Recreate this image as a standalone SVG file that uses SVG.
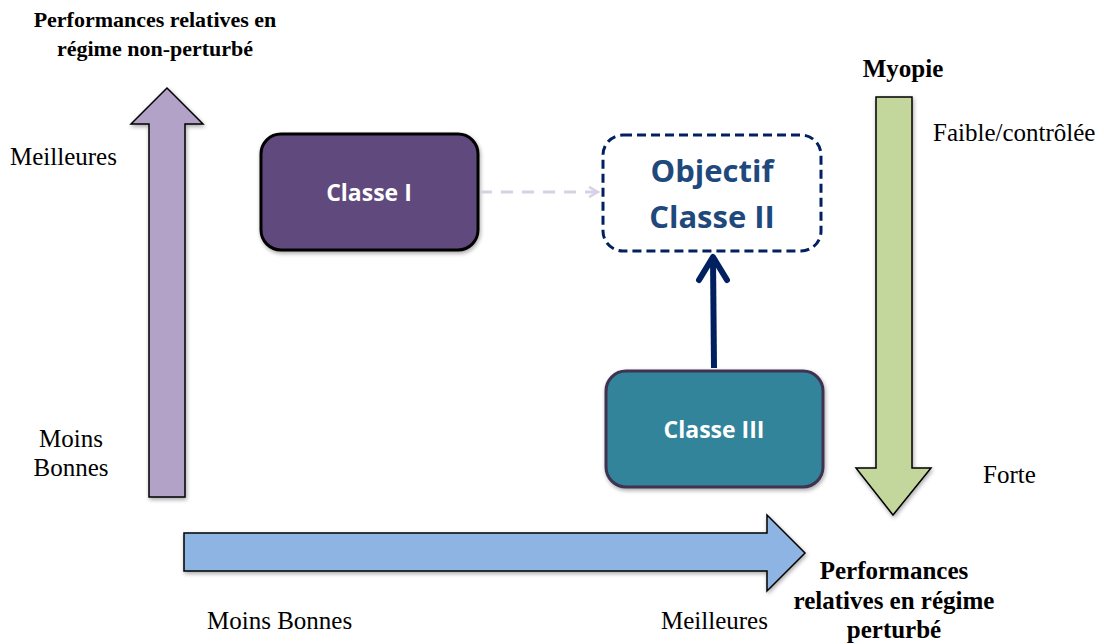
<svg xmlns="http://www.w3.org/2000/svg" width="1104" height="644" viewBox="0 0 1104 644">
<defs>
<style>
.t{font-family:"Liberation Serif","Times New Roman",serif;font-size:25px;fill:#000}
.b{font-weight:bold}
.c{text-anchor:middle}
.top{font-size:22px}
.lbl{font-family:"Open Sans","Liberation Sans",sans-serif;font-weight:bold;fill:#fff;font-size:23px;text-anchor:middle}
.obj{font-family:"Open Sans","Liberation Sans",sans-serif;font-weight:bold;fill:#1F497D;font-size:31px;text-anchor:middle}
.big{stroke:#000;stroke-width:1.5;stroke-linejoin:miter}
</style>
<filter id="sh" x="-10%" y="-10%" width="130%" height="130%">
<feGaussianBlur in="SourceAlpha" stdDeviation="2"/>
<feOffset dx="1" dy="2" result="o"/>
<feComponentTransfer><feFuncA type="linear" slope="0.35"/></feComponentTransfer>
<feMerge><feMergeNode/><feMergeNode in="SourceGraphic"/></feMerge>
</filter>
<marker id="openL" markerWidth="12" markerHeight="12" refX="10" refY="6" orient="auto" markerUnits="userSpaceOnUse">
<path d="M1,1 L10,6 L1,11" fill="none" stroke="#D9CFE6" stroke-width="2.5"/>
</marker>
</defs>

<g id="axis-vertical">
<polygon class="big" filter="url(#sh)" fill="#B2A2C7" points="149,497 149,124 131,124 167,88 203,124 185,124 185,497"/>
</g>
<g id="axis-myopie">
<polygon class="big" filter="url(#sh)" fill="#C3D69B" points="876,97 912,97 912,468 931,468 893,515 856,468 876,468"/>
</g>
<g id="axis-horizontal">
<polygon class="big" filter="url(#sh)" fill="#8EB4E3" points="184,533 767,533 767,515 805,553 767,591 767,571 184,571"/>
</g>

<g id="classe1">
<rect x="261" y="134" width="217" height="116" rx="20" fill="#604A7B" stroke="#000" stroke-width="3" filter="url(#sh)"/>
<text class="lbl" x="369" y="201">Classe I</text>
</g>

<g id="objectif">
<rect x="603" y="135" width="218" height="116" rx="20" fill="#fff" stroke="#002060" stroke-width="3" stroke-dasharray="9,5"/>
<text class="obj" x="712" y="182">Objectif</text>
<text class="obj" x="712" y="228">Classe II</text>
</g>

<g id="classe3">
<rect x="606" y="371" width="217" height="116" rx="20" fill="#31849B" stroke="#3F3151" stroke-width="3" filter="url(#sh)"/>
<text class="lbl" x="714" y="438">Classe III</text>
</g>

<g id="connectors">
<line x1="480" y1="192" x2="598" y2="192" stroke="#D9CFE6" stroke-width="3" stroke-dasharray="12,9" marker-end="url(#openL)"/>
<line x1="714" y1="368" x2="713" y2="258" stroke="#002060" stroke-width="6"/>
<path d="M699,280 L713,257 L727,280" fill="none" stroke="#002060" stroke-width="6" stroke-linecap="round" stroke-linejoin="round"/>
</g>

<g id="texts">
<text class="t b c top" x="155" y="27">Performances relatives en</text>
<text class="t b c top" x="155" y="56">régime non-perturbé</text>
<text class="t" x="10" y="165">Meilleures</text>
<text class="t c" x="71" y="447">Moins</text>
<text class="t c" x="71" y="476">Bonnes</text>
<text class="t b c" x="903" y="77">Myopie</text>
<text class="t" x="933" y="141">Faible/contrôlée</text>
<text class="t" x="983" y="483">Forte</text>
<text class="t" x="207" y="629">Moins Bonnes</text>
<text class="t" x="661" y="629">Meilleures</text>
<text class="t b c" x="894" y="579">Performances</text>
<text class="t b c" x="894" y="609">relatives en régime</text>
<text class="t b c" x="894" y="638">perturbé</text>
</g>
</svg>
